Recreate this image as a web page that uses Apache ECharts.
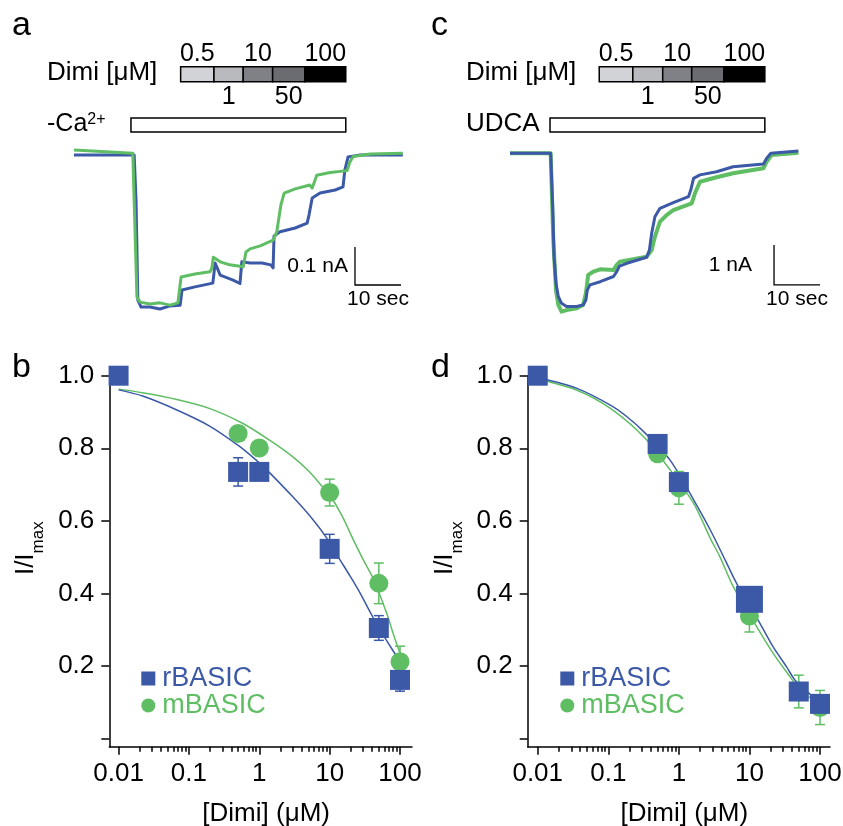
<!DOCTYPE html>
<html>
<head>
<meta charset="utf-8">
<title>Dimi block of BASIC</title>
<script src="https://cdn.jsdelivr.net/npm/echarts@6/dist/echarts.min.js"></script>
<style>
  html, body { margin: 0; padding: 0; background: #fff; }
  #chart { width: 843px; height: 826px; }
</style>
</head>
<body>
<div id="chart"></div>
<script>
// values

// current traces, [time (s), current (nA)]
const traceA_rBASIC = [
  [0.2, -0.008], [13.3, -0.008], [13.7, -0.126], [14.1, -0.390], [14.8, -0.408], [16.7, -0.408],
  [18.9, -0.413], [21.1, -0.405], [23.3, -0.403], [23.7, -0.363], [26.5, -0.355], [30.4, -0.345],
  [30.9, -0.292], [32.0, -0.324], [34.8, -0.337], [36.3, -0.346], [36.7, -0.289], [38.5, -0.292],
  [41.1, -0.292], [43.0, -0.297], [43.5, -0.305], [43.7, -0.221], [45.0, -0.210], [48.3, -0.200],
  [50.9, -0.187], [51.3, -0.166], [52.0, -0.121], [53.7, -0.108], [57.0, -0.100], [58.7, -0.092],
  [59.1, -0.047], [59.8, -0.013], [62.4, -0.008], [71.7, -0.008]
]
const traceA_mBASIC = [
  [0.2, 0.005], [13.0, -0.003], [13.9, -0.382], [14.6, -0.395], [16.7, -0.400], [18.9, -0.397],
  [21.1, -0.403], [22.8, -0.397], [23.5, -0.329], [26.5, -0.321], [29.8, -0.315], [30.2, -0.305],
  [30.5, -0.277], [32.0, -0.289], [34.1, -0.297], [37.0, -0.302], [37.6, -0.263], [38.5, -0.255],
  [40.7, -0.247], [43.5, -0.232], [44.3, -0.210], [45.2, -0.139], [45.9, -0.108], [48.3, -0.097],
  [51.5, -0.087], [52.0, -0.095], [53.0, -0.061], [55.9, -0.054], [59.6, -0.049], [60.2, -0.026],
  [60.9, -0.012], [64.6, -0.005], [71.7, -0.003]
]
const traceC_rBASIC = [
  [0, 0], [8.84, 0], [9.28, -1.33], [9.57, -2.58], [10.0, -3.25], [10.5, -3.58], [11.2, -3.75],
  [12.3, -3.83], [14.5, -3.83], [15.9, -3.79], [16.5, -3.67], [16.8, -3.42], [17.4, -3.29],
  [19.6, -3.21], [22.5, -3.08], [23.2, -2.96], [23.8, -2.82], [25.4, -2.75], [29.7, -2.60],
  [30.3, -2.42], [30.8, -2.00], [31.5, -1.585], [32.6, -1.375], [35.5, -1.235], [38.8, -1.085],
  [39.3, -0.92], [39.9, -0.625], [41.3, -0.54], [44.9, -0.46], [48.5, -0.335], [55.1, -0.27],
  [55.8, -0.125], [56.7, 0], [62.7, 0.06]
]
const traceC_mBASIC = [
  [0, 0], [8.84, 0], [9.42, -2.17], [10.0, -3.42], [10.5, -3.79], [11.2, -3.96], [12.3, -3.92],
  [14.5, -3.875], [15.9, -3.79], [16.5, -3.50], [17.0, -3.04], [18.1, -2.96], [19.6, -2.90],
  [22.5, -2.92], [23.2, -2.79], [23.9, -2.71], [29.7, -2.585], [30.8, -2.42], [31.5, -2.085],
  [32.6, -1.71], [34.1, -1.54], [35.5, -1.42], [39.5, -1.25], [40.2, -1.00], [41.3, -0.71],
  [44.9, -0.60], [48.5, -0.50], [55.1, -0.375], [55.8, -0.21], [56.9, -0.04], [62.7, 0.015]
]

// application periods, seconds on the trace clock
const dimiConc = ['0.5', '1', '10', '50', '100']
const dimiStartA = [23.4, 30.65, 37.0, 43.4, 50.4]
const dimiEndA = [30.65, 37.0, 43.4, 50.4, 59.3]
const caFreeA = [12.6, 59.3]
const dimiStartC = [19.4, 26.7, 33.2, 39.5, 46.5]
const dimiEndC = [26.7, 33.2, 39.5, 46.5, 55.4]
const udcaC = [8.7, 55.4]

// scale bars: [time, top current, seconds, nA]
const scaleBarA = [61.3, -0.25, 10, 0.1]
const scaleBarC = [57.4, -2.29, 10, 1]
const scaleLabelsA = ['0.1 nA', '10 sec']
const scaleLabelsC = ['1 nA', '10 sec']

// dose response, [Dimi] in µM
const doses = [0.01, 0.5, 1, 10, 50, 100]
const rB_b = [1.0, 0.735, 0.735, 0.523, 0.305, 0.162]
const rB_bErr = [0, 0.039, 0.02, 0.04, 0.034, 0.031]
const mB_b = [1.0, 0.841, 0.801, 0.678, 0.428, 0.212]
const mB_bErr = [0, 0.02, 0.02, 0.037, 0.056, 0.043]
const rB_d = [1.0, 0.812, 0.707, 0.384, 0.13, 0.096]
const rB_dErr = [0, 0, 0, 0, 0, 0]
const mB_d = [1.0, 0.785, 0.691, 0.338, 0.13, 0.086]
const mB_dErr = [0, 0.02, 0.045, 0.044, 0.045, 0.047]

// fitted curves, traced point by point
const fitB_r = [[0.01, 0.961], [0.022, 0.944], [0.065, 0.907], [0.194, 0.862], [0.518, 0.806],
  [0.895, 0.768], [1.43, 0.731], [2.97, 0.667], [5.11, 0.616], [8.83, 0.556], [14.1, 0.492],
  [19.5, 0.448], [27.1, 0.401], [40.8, 0.336], [61.4, 0.277], [90, 0.226], [100, 0.21]]
const fitB_m = [[0.01, 0.963], [0.022, 0.953], [0.065, 0.935], [0.194, 0.910], [0.577, 0.869],
  [1.38, 0.823], [2.97, 0.777], [5.11, 0.736], [7.9, 0.694], [10, 0.672], [15.2, 0.612],
  [21.8, 0.547], [30.2, 0.492], [41.9, 0.44], [64.8, 0.345], [80.5, 0.288], [100, 0.235]]
const fitD_r = [[0.01, 0.995], [0.036, 0.965], [0.107, 0.919], [0.184, 0.887], [0.317, 0.846],
  [0.746, 0.768], [1.62, 0.658], [2.79, 0.575], [4.54, 0.492], [6.58, 0.428], [14.1, 0.318],
  [21.7, 0.253], [33.6, 0.198], [44.1, 0.162], [70, 0.125], [100, 0.10]]
const fitD_m = [[0.01, 0.99], [0.036, 0.960], [0.107, 0.910], [0.317, 0.832], [0.755, 0.740],
  [1.62, 0.648], [2.79, 0.552], [3.82, 0.501], [5.9, 0.419], [12.65, 0.3085], [21.7, 0.235],
  [37.5, 0.171], [44.1, 0.153], [70, 0.115], [100, 0.09]]

// axis ticks
const xTicks = [0.01, 0.1, 1, 10, 100]
const xTickLabels = ['0.01', '0.1', '1', '10', '100']
const minorSteps = [2, 3, 4, 5, 6, 7, 8, 9]
const minorDecades = [0.01, 0.1, 1, 10]
const yTicks = [0, 0.2, 0.4, 0.6, 0.8, 1.0]
const yTickLabels = [0.2, 0.4, 0.6, 0.8, 1.0]

// styles
const FONT = '"Liberation Sans", Arial, Helvetica, sans-serif'
const BLUE = '#3c59a8'
const GREEN = '#5fbe63'
const dimiShades = ['#d2d3d6', '#b9babe', '#808186', '#6b6c71', '#000000']

let minorTicks = []
minorDecades.forEach(d => minorSteps.forEach(s => minorTicks.push(+(d * s).toPrecision(3))))

let chart = echarts.init(document.getElementById('chart'), null, { renderer: 'canvas' })

// 给药条：Dimi 分段 + 无钙/UDCA 条
function stimSeries (axisIndex, starts, ends, period) {
  return [{
    type: 'custom',
    xAxisIndex: axisIndex,
    yAxisIndex: axisIndex,
    silent: true,
    data: starts.map((s, i) => [s, ends[i], 1, i]),
    encode: { x: [0, 1], y: 2 },
    renderItem: (params, api) => {
      let i = api.value(3)
      let p0 = api.coord([api.value(0), 1])
      let p1 = api.coord([api.value(1), 1])
      let top = p0[1] - 7.5
      let labelY = i % 2 === 0 ? p0[1] - 20.5 : p0[1] + 22.5
      return {
        type: 'group',
        children: [{
          type: 'rect',
          shape: { x: p0[0], y: top, width: p1[0] - p0[0], height: 15 },
          style: { fill: dimiShades[i], stroke: '#000', lineWidth: 1.5 }
        }, {
          type: 'text',
          style: {
            text: dimiConc[i], x: (p0[0] + p1[0]) / 2, y: labelY,
            align: 'center', verticalAlign: 'middle', font: '25px ' + FONT, fill: '#000'
          }
        }]
      }
    }
  }, {
    type: 'custom',
    xAxisIndex: axisIndex,
    yAxisIndex: axisIndex,
    silent: true,
    data: [[period[0], period[1], 0]],
    encode: { x: [0, 1], y: 2 },
    renderItem: (params, api) => {
      let p0 = api.coord([api.value(0), 0])
      let p1 = api.coord([api.value(1), 0])
      return {
        type: 'rect',
        shape: { x: p0[0], y: p0[1] - 7, width: p1[0] - p0[0], height: 14 },
        style: { fill: '#fff', stroke: '#000', lineWidth: 1.5 }
      }
    }
  }]
}

function scaleBarSeries (axisIndex, bar, labels, textGap) {
  return {
    type: 'custom',
    xAxisIndex: axisIndex,
    yAxisIndex: axisIndex,
    silent: true,
    data: [bar],
    encode: { x: 0, y: 1 },
    renderItem: (params, api) => {
      let top = api.coord([api.value(0), api.value(1)])
      let corner = api.coord([api.value(0), api.value(1) - api.value(3)])
      let end = api.coord([api.value(0) + api.value(2), api.value(1) - api.value(3)])
      return {
        type: 'group',
        children: [{
          type: 'polyline',
          shape: { points: [top, corner, end] },
          style: { stroke: '#000', lineWidth: 1.3, fill: null }
        }, {
          type: 'text',
          style: {
            text: labels[0], x: corner[0] - textGap, y: (top[1] + corner[1]) / 2,
            align: 'right', verticalAlign: 'middle', font: '21px ' + FONT, fill: '#000'
          }
        }, {
          type: 'text',
          style: {
            text: labels[1], x: (corner[0] + end[0]) / 2, y: corner[1] + 14,
            align: 'center', verticalAlign: 'middle', font: '21px ' + FONT, fill: '#000'
          }
        }]
      }
    }
  }
}

function traceSeries (axisIndex, data, color, width) {
  return {
    type: 'line',
    xAxisIndex: axisIndex,
    yAxisIndex: axisIndex,
    data: data,
    showSymbol: false,
    symbol: 'none',
    silent: true,
    lineStyle: { color: color, width: width, join: 'round' }
  }
}

function errorSeries (axisIndex, ys, errs, color) {
  return {
    type: 'custom',
    xAxisIndex: axisIndex,
    yAxisIndex: axisIndex,
    silent: true,
    data: doses.map((d, i) => [d, ys[i], errs[i]]),
    encode: { x: 0, y: 1 },
    z: 3,
    renderItem: (params, api) => {
      let x = api.value(0)
      let y = api.value(1)
      let e = api.value(2)
      if (!e) return null
      let hi = api.coord([x, y + e])
      let lo = api.coord([x, y - e])
      let style = { stroke: color, lineWidth: 1.5 }
      return {
        type: 'group',
        children: [
          { type: 'line', shape: { x1: hi[0], y1: hi[1], x2: lo[0], y2: lo[1] }, style: style },
          { type: 'line', shape: { x1: hi[0] - 5, y1: hi[1], x2: hi[0] + 5, y2: hi[1] }, style: style },
          { type: 'line', shape: { x1: lo[0] - 5, y1: lo[1], x2: lo[0] + 5, y2: lo[1] }, style: style }
        ]
      }
    }
  }
}

function fitSeries (axisIndex, data, color, name) {
  return {
    type: 'line',
    name: name,
    xAxisIndex: axisIndex,
    yAxisIndex: axisIndex,
    data: data,
    smooth: 0.3,
    showSymbol: false,
    symbol: 'none',
    silent: true,
    z: 2,
    lineStyle: { color: color, width: 1.5 }
  }
}

function markerSeries (axisIndex, ys, name, color, symbol, size) {
  return {
    type: 'scatter',
    name: name,
    xAxisIndex: axisIndex,
    yAxisIndex: axisIndex,
    data: doses.map((d, i) => [d, ys[i]]),
    symbol: symbol,
    symbolSize: size,
    silent: true,
    z: 4,
    itemStyle: { color: color, opacity: 1 }
  }
}

const hidden = { show: false }
function hiddenX (gridIndex, max) {
  return { type: 'value', gridIndex, min: 0, max, show: false }
}

const axisLineStyle = { color: '#000', width: 1.5 }
function doseX (gridIndex, min, max) {
  return [{
    type: 'log', logBase: 10, gridIndex, min, max, position: 'bottom',
    axisLine: { show: true, onZero: false, lineStyle: axisLineStyle },
    axisTick: { show: true, length: 8, customValues: xTicks, lineStyle: axisLineStyle },
    axisLabel: {
      customValues: xTicks, margin: 14, fontSize: 26, color: '#000', fontFamily: FONT,
      formatter: v => xTickLabels[xTicks.findIndex(t => Math.abs(Math.log10(t / v)) < 1e-6)]
    },
    splitLine: hidden,
    name: '[Dimi] (μM)',
    nameLocation: 'middle',
    nameGap: 54,
    nameTextStyle: { fontSize: 26, color: '#000', fontFamily: FONT, padding: [0, 0, 0, 11] }
  }, {
    type: 'log', logBase: 10, gridIndex, min, max, position: 'bottom', offset: 0,
    axisLine: { show: false, onZero: false },
    axisTick: { show: true, length: 5, customValues: minorTicks, lineStyle: axisLineStyle },
    axisLabel: hidden,
    splitLine: hidden
  }]
}
function doseY (gridIndex) {
  return {
    type: 'value', gridIndex, min: -0.022, max: 1.0,
    axisLine: { show: true, onZero: false, lineStyle: axisLineStyle },
    axisTick: { show: true, length: 8, customValues: yTicks, lineStyle: axisLineStyle },
    axisLabel: {
      customValues: yTickLabels, margin: 15, fontSize: 26, color: '#000', fontFamily: FONT,
      formatter: v => v.toFixed(1)
    },
    splitLine: hidden,
    name: '{a|I/I}{b|max}',
    nameLocation: 'middle',
    nameRotate: 90,
    nameGap: 62,
    nameTextStyle: {
      color: '#000',
      fontFamily: FONT,
      padding: [0, 0, 0, 26],
      rich: {
        a: { fontSize: 26, lineHeight: 42, fontFamily: FONT, color: '#000' },
        b: { fontSize: 17, lineHeight: 17, verticalAlign: 'bottom', fontFamily: FONT, color: '#000' }
      }
    }
  }
}

function legendFor (left) {
  return {
    left: left, top: 665, orient: 'vertical', padding: 0,
    itemWidth: 14, itemHeight: 14, itemGap: 0, selectedMode: false,
    textStyle: { fontSize: 27, lineHeight: 26, fontFamily: FONT, padding: [0, 0, 0, 2] },
    data: [
      { name: 'rBASIC', textStyle: { color: BLUE } },
      { name: 'mBASIC', textStyle: { color: GREEN } }
    ]
  }
}

function panelText (text, x, y, size, extra) {
  return {
    type: 'text', x: x, y: y, silent: true,
    style: Object.assign({
      text: text, font: size + 'px ' + FONT, fill: '#000', align: 'left', verticalAlign: 'middle'
    }, extra || {})
  }
}

const caRich = {
  a: { fontSize: 25, lineHeight: 25, fontFamily: FONT, fill: '#000' },
  b: { fontSize: 16, lineHeight: 16, verticalAlign: 'top', fontFamily: FONT, fill: '#000' }
}

let option = {
  animation: false,
  backgroundColor: '#fff',
  textStyle: { fontFamily: FONT },
  grid: [
    { left: 73, top: 140.6, width: 331.2, height: 174.8, containLabel: false, outerBoundsMode: 'none' },
    { left: 73, top: 48.8, width: 331.2, height: 101.6, containLabel: false, outerBoundsMode: 'none' },
    { left: 510, top: 141.3, width: 322, height: 180, containLabel: false, outerBoundsMode: 'none' },
    { left: 510, top: 48.8, width: 322, height: 101.6, containLabel: false, outerBoundsMode: 'none' },
    { left: 109.3, top: 375.7, width: 302.7, height: 371, containLabel: false, outerBoundsMode: 'none' },
    { left: 527.7, top: 375.7, width: 302.3, height: 371, containLabel: false, outerBoundsMode: 'none' }
  ],
  xAxis: [
    hiddenX(0, 72),
    hiddenX(1, 72),
    hiddenX(2, 70),
    hiddenX(3, 70),
    ...doseX(4, 0.00738, 148),
    ...doseX(5, 0.00721, 138.6)
  ],
  yAxis: [
    { type: 'value', gridIndex: 0, min: -0.43, max: 0.03, show: false },
    { type: 'category', gridIndex: 1, data: ['period', 'dimi'], show: false },
    { type: 'value', gridIndex: 2, min: -4.2, max: 0.3, show: false },
    { type: 'category', gridIndex: 3, data: ['period', 'dimi'], show: false },
    doseY(4),
    doseY(5)
  ],
  legend: [legendFor(141.3), legendFor(560.3)],
  series: [
    // a
    traceSeries(0, traceA_rBASIC, BLUE, 3),
    traceSeries(0, traceA_mBASIC, GREEN, 3),
    scaleBarSeries(0, scaleBarA, scaleLabelsA, 7),
    ...stimSeries(1, dimiStartA, dimiEndA, caFreeA),
    // c
    traceSeries(2, traceC_mBASIC, GREEN, 4),
    traceSeries(2, traceC_rBASIC, BLUE, 3),
    scaleBarSeries(2, scaleBarC, scaleLabelsC, 22),
    ...stimSeries(3, dimiStartC, dimiEndC, udcaC),
    // b (x axis 4, y axis 4)
    fitSeries(4, fitB_m, GREEN, 'mBASIC fit b'),
    fitSeries(4, fitB_r, BLUE, 'rBASIC fit b'),
    errorSeries(4, mB_b, mB_bErr, GREEN),
    errorSeries(4, rB_b, rB_bErr, BLUE),
    markerSeries(4, mB_b, 'mBASIC', GREEN, 'circle', 19),
    markerSeries(4, rB_b, 'rBASIC', BLUE, 'rect', 20),
    // d (x axis 6, y axis 5)
    Object.assign(fitSeries(6, fitD_m, GREEN, 'mBASIC fit d'), { yAxisIndex: 5 }),
    Object.assign(fitSeries(6, fitD_r, BLUE, 'rBASIC fit d'), { yAxisIndex: 5 }),
    Object.assign(errorSeries(6, mB_d, mB_dErr, GREEN), { yAxisIndex: 5 }),
    Object.assign(errorSeries(6, rB_d, rB_dErr, BLUE), { yAxisIndex: 5 }),
    Object.assign(markerSeries(6, mB_d, 'mBASIC', GREEN, 'circle', 19), { yAxisIndex: 5 }),
    Object.assign(markerSeries(6, rB_d, 'rBASIC', BLUE, 'rect', (v, p) => p.dataIndex === 3 ? 27 : 20), { yAxisIndex: 5 })
  ],
  graphic: [
    panelText('a', 12, 26, 34),
    panelText('c', 431, 26, 34),
    panelText('b', 12, 368, 34),
    panelText('d', 431, 368, 34),
    panelText('Dimi [μM]', 47, 73, 26),
    panelText('Dimi [μM]', 466, 73, 26),
    panelText('{a|-Ca}{b|2+}', 47, 124, 25, { rich: caRich }),
    panelText('UDCA', 466, 124, 26)
  ]
}

chart.setOption(option)
</script>
</body>
</html>
